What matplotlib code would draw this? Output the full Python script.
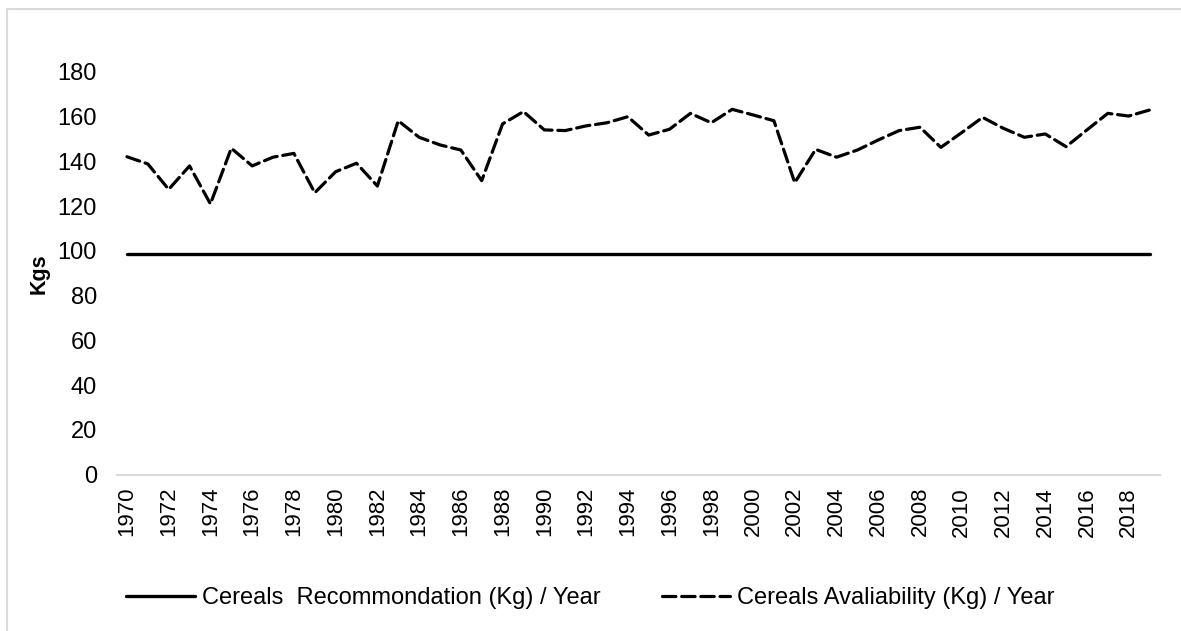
import numpy as np
import matplotlib
matplotlib.use("Agg")
import matplotlib.pyplot as plt
from matplotlib.patches import Rectangle

# data
years = list(range(1970, 2020))
recommendation = [98.6] * len(years)
availability = [142.1, 138.9, 127.5, 138.0, 121.0, 145.9, 138.0, 141.9, 143.6, 126.0,
                 135.4, 139.2, 129.0, 158.2, 150.8, 147.4, 145.1, 131.4, 156.8, 162.3,
                 154.1, 153.8, 155.9, 157.3, 160.0, 151.8, 154.4, 161.5, 157.3, 163.3,
                 160.8, 158.2, 130.5, 145.4, 141.9, 145.1, 149.6, 153.8, 155.3, 146.3,
                 152.9, 159.7, 154.8, 150.8, 152.3, 146.6, 154.1, 161.5, 160.3, 163.0]
yticks = list(range(0, 181, 20))

plt.rcParams['font.family'] = ['Liberation Sans', 'DejaVu Sans']

W, H = 1181, 631
fig = plt.figure(figsize=(W / 100, H / 100), dpi=100)

# chart area frame
fig.patches.append(Rectangle((7 / W, -0.05), 1.1, 1 - 9 / H + 0.05, transform=fig.transFigure,
                             fill=False, edgecolor='#d9d9d9', linewidth=1.5))

ax = fig.add_axes([116.5 / W, 156.5 / H, 1043.5 / W, 402.5 / H])
x = np.arange(len(years))
ax.plot(x, recommendation, color='black', linewidth=2.4, solid_capstyle='round',
        label='Cereals  Recommondation (Kg) / Year')
ax.plot(x, availability, color='black', linewidth=2.3, linestyle=(0, (4.2, 1.8)),
        dash_capstyle='round', label='Cereals Avaliability (Kg) / Year')

ax.set_xlim(-0.5, len(years) - 0.5)
ax.set_ylim(0, 180)
ax.set_yticks(yticks)
ax.set_xticks(x[::2])
ax.set_xticklabels([str(y) for y in years[::2]], rotation=90)
ax.tick_params(axis='y', length=0, labelsize=17, colors='black', pad=14)
ax.tick_params(axis='x', length=0, labelsize=16, colors='black', pad=9)
for s in ['top', 'right', 'left']:
    ax.spines[s].set_visible(False)
ax.spines['bottom'].set_color('#d9d9d9')
ax.spines['bottom'].set_linewidth(1.5)
ax.set_ylabel('Kgs', fontsize=15.5, fontweight='bold', labelpad=6)

fig.legend(loc='center', bbox_to_anchor=(0.5, 1 - 598 / H), ncol=2, frameon=False,
           fontsize=17, handlelength=2.9, handletextpad=0.3, columnspacing=2.6)

fig.savefig('out.png', dpi=100)
